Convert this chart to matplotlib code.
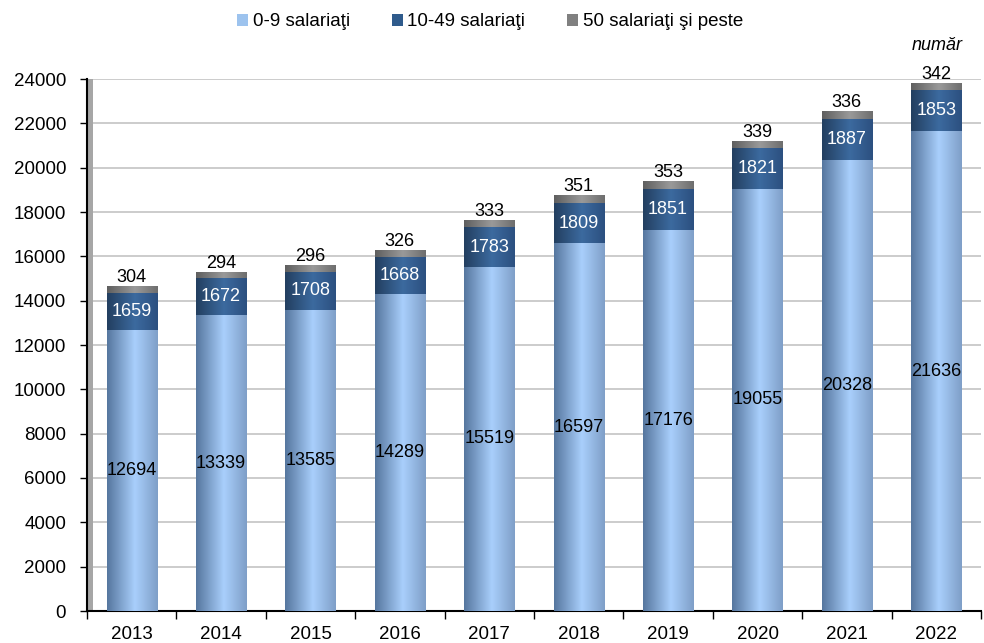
import numpy as np
import matplotlib
matplotlib.use("Agg")
import matplotlib.pyplot as plt
from matplotlib.colors import LinearSegmentedColormap
from matplotlib.patches import Rectangle, Patch

plt.rcParams['font.family'] = ['Liberation Sans', 'DejaVu Sans']

years = ['2013', '2014', '2015', '2016', '2017', '2018', '2019', '2020', '2021', '2022']
small = [12694, 13339, 13585, 14289, 15519, 16597, 17176, 19055, 20328, 21636]
medium = [1659, 1672, 1708, 1668, 1783, 1809, 1851, 1821, 1887, 1853]
large = [304, 294, 296, 326, 333, 351, 353, 339, 336, 342]
series_names = ['0-9 salariaţi', '10-49 salariaţi', '50 salariaţi şi peste']

W, H = 984, 643
fig = plt.figure(figsize=(W / 100, H / 100), dpi=100)
ax = fig.add_axes([87 / W, (H - 611) / H, (981 - 87) / W, (611 - 79) / H])

x = np.arange(len(years))
bw = 0.56

cmaps = [
    LinearSegmentedColormap.from_list('c0', [(0, '#56779f'), (0.55, '#a9cffc'), (1, '#7f9fc8')]),
    LinearSegmentedColormap.from_list('c1', [(0, '#233f60'), (0.55, '#3c6a9f'), (1, '#2c5080')]),
    LinearSegmentedColormap.from_list('c2', [(0, '#5f5f5f'), (0.55, '#9a9a9a'), (1, '#6e6e6e')]),
]
flat = ['#9dc3ee', '#2f5b8c', '#808080']

grad = np.linspace(0, 1, 64).reshape(1, -1)
bottoms = np.zeros(len(years))
for vals, cm, fc in zip([small, medium, large], cmaps, flat):
    vals = np.array(vals, dtype=float)
    bars = ax.bar(x, vals, bw, bottom=bottoms, color=fc, edgecolor='none', zorder=2)
    for b in bars:
        x0, y0 = b.get_x(), b.get_y()
        im = ax.imshow(grad, cmap=cm, aspect='auto', interpolation='bicubic',
                       extent=(x0, x0 + b.get_width(), y0, y0 + b.get_height()), zorder=3)
        im.set_clip_path(b)
    bottoms = bottoms + vals

tot_small = np.array(small, float)
tot_med = tot_small + np.array(medium, float)
tot = tot_med + np.array(large, float)
fs = 13
for i in range(len(years)):
    ax.text(x[i], small[i] / 2, str(small[i]), ha='center', va='center', fontsize=fs, color='black', zorder=5)
    ax.text(x[i], small[i] + medium[i] / 2, str(medium[i]), ha='center', va='center', fontsize=fs, color='white', zorder=5)
    ax.text(x[i], tot[i] + 10, str(large[i]), ha='center', va='bottom', fontsize=fs, color='black', zorder=5)

ax.set_xlim(-0.5, len(years) - 0.5)
ax.set_ylim(0, 24000)
ax.set_yticks(np.arange(0, 24001, 2000))
ax.tick_params(axis='y', labelsize=13.5, length=5, direction='out', width=1, pad=10)
ax.set_xticks(x)
ax.set_xticklabels(years, fontsize=13.5)
ax.tick_params(axis='x', length=0, pad=11)
ax.set_xticks(np.arange(-0.5, len(years) - 0.4, 1), minor=True)
ax.tick_params(axis='x', which='minor', length=6, width=1, direction='out')
ax.grid(axis='y', color='#c8c8c8', linewidth=1.3, zorder=0)
ax.set_axisbelow(True)
for s in ['top', 'right']:
    ax.spines[s].set_visible(False)
ax.spines['left'].set_linewidth(1.5)
ax.spines['bottom'].set_linewidth(1.5)

# 3D wall strip
ax.add_patch(Rectangle((0, 0), 0.007, 1, transform=ax.transAxes, facecolor='#a6a6a6',
                       edgecolor='none', zorder=1, clip_on=False))

handles = [Patch(facecolor=c) for c in flat]
fig.legend(handles, series_names, loc='center', bbox_to_anchor=(490 / W, 1 - 22 / H), ncol=3,
           frameon=False, fontsize=13.5, handlelength=0.6, handleheight=0.6, handletextpad=0.25,
           columnspacing=2.2)

fig.text(937 / W, 1 - 45 / H, 'număr', ha='center', va='center', fontsize=13, style='italic')

fig.savefig('out.png', dpi=100)
